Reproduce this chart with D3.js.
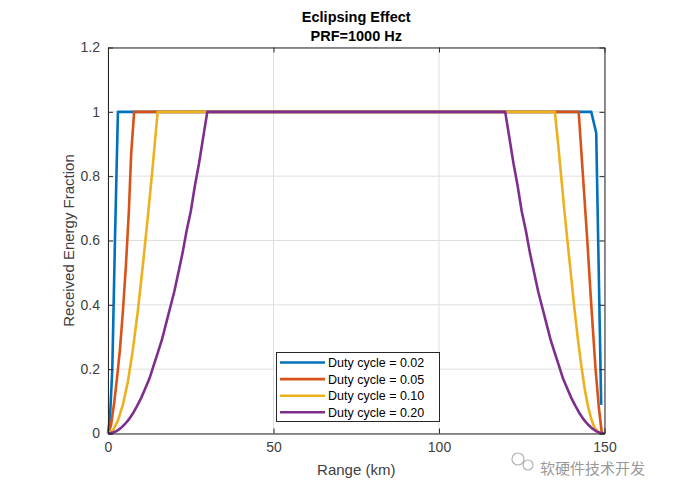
<!DOCTYPE html>
<html>
<head>
<meta charset="utf-8">
<script src="https://cdn.jsdelivr.net/npm/d3@7"></script>
<style>
  html, body { margin: 0; padding: 0; background: #ffffff; }
  svg { display: block; }
  text { font-family: "Liberation Sans", Arial, Helvetica, sans-serif; }
</style>
</head>
<body>
<svg id="chart" width="680" height="487"></svg>
<script>
// ---- data ----
const titleLines = ["Eclipsing Effect", "PRF=1000 Hz"];
const xLabel = "Range (km)";
const yLabel = "Received Energy Fraction";
const xTicks = [0, 50, 100, 150];
const yTicks = [0, 0.2, 0.4, 0.6, 0.8, 1, 1.2];
const yTickLabels = ["0", "0.2", "0.4", "0.6", "0.8", "1", "1.2"];
const seriesNames = ["Duty cycle = 0.02", "Duty cycle = 0.05", "Duty cycle = 0.10", "Duty cycle = 0.20"];

const rangeD02 = [0, 0.6, 1.3, 2.1, 3.0, 146.0, 147.5, 149.0];
const energyD02 = [0, 0.05, 0.2, 0.6, 1, 1, 0.934, 0.089];

const rangeD05 = [0, 0.9, 1.8, 2.7, 3.6, 4.5, 5.4, 6.3, 7.0, 7.9, 142.2, 143.5, 144.8, 146.0, 147.3, 148.3, 149.2];
const energyD05 = [0, 0.025, 0.09, 0.17, 0.26, 0.38, 0.52, 0.69, 0.87, 1, 1, 0.8, 0.6, 0.4, 0.2, 0.08, 0];

const rangeD10 = [0, 1.5, 3, 4.5, 6, 7.5, 9, 10.5, 12, 13.5, 15,
                  135, 136, 137, 138, 139, 140, 141, 142, 143, 144, 145, 146, 147, 148, 149];
const energyD10 = [0, 0.01, 0.04, 0.09, 0.16, 0.26, 0.38, 0.52, 0.67, 0.83, 1,
                   1, 0.9, 0.79, 0.68, 0.58, 0.48, 0.38, 0.29, 0.21, 0.14, 0.085, 0.045, 0.018, 0.005, 0];

const rangeD20 = [0, 1.25, 2.5, 3.75, 5, 6.25, 7.5, 8.75, 10, 11.25, 12.5, 13.75, 15, 16.25, 17.5, 18.75,
                  20, 21.25, 22.5, 23.75, 25, 26.25, 27.5, 28.75, 30,
                  120, 121.25, 122.5, 123.75, 125, 126.25, 127.5, 128.75, 130, 131.25, 132.5, 133.75,
                  135, 136.25, 137.5, 138.75, 140, 141.25, 142.5, 143.75, 145, 146.25, 147.5, 148.75, 150];
const energyD20 = [0, 0.002, 0.007, 0.016, 0.028, 0.043, 0.062, 0.085, 0.11, 0.14, 0.17, 0.21, 0.25, 0.29,
                   0.34, 0.39, 0.44, 0.50, 0.56, 0.63, 0.69, 0.77, 0.84, 0.92, 1,
                   1, 0.92, 0.84, 0.77, 0.69, 0.63, 0.56, 0.50, 0.44, 0.39, 0.34, 0.29,
                   0.25, 0.21, 0.17, 0.14, 0.11, 0.085, 0.062, 0.043, 0.028, 0.016, 0.007, 0.002, 0];

const colors = ["#0072BD", "#D95319", "#EDB120", "#7E2F8E"];
const watermark = "软硬件技术开发";

// ---- layout ----
const svg = d3.select("#chart");
const L = 108, R = 604.5, T = 47.5, B = 433.5;

const x = d3.scaleLinear().domain([0, 150]).range([L, R]);
const y = d3.scaleLinear().domain([0, 1.2]).range([B, T]);

const axisColor = "#262626";
const labelColor = "#404040";

// grid
const g = svg.append("g");
g.selectAll("line.gx").data(xTicks).enter().append("line")
  .attr("x1", d => x(d)).attr("x2", d => x(d)).attr("y1", T).attr("y2", B)
  .attr("stroke", "#dfdfdf").attr("stroke-width", 1);
g.selectAll("line.gy").data(yTicks).enter().append("line")
  .attr("x1", L).attr("x2", R).attr("y1", d => y(d)).attr("y2", d => y(d))
  .attr("stroke", "#dfdfdf").attr("stroke-width", 1);

// data lines
const series = [
  {name: seriesNames[0], xs: rangeD02, ys: energyD02},
  {name: seriesNames[1], xs: rangeD05, ys: energyD05},
  {name: seriesNames[2], xs: rangeD10, ys: energyD10},
  {name: seriesNames[3], xs: rangeD20, ys: energyD20}
];
const line = d3.line().x(d => x(d[0])).y(d => y(d[1])).curve(d3.curveLinear);
series.forEach((s, i) => {
  const pts = s.xs.map((v, k) => [v, s.ys[k]]);
  svg.append("path").datum(pts)
    .attr("d", line)
    .attr("fill", "none")
    .attr("stroke", colors[i])
    .attr("stroke-width", 2.6)
    .attr("stroke-linejoin", "round")
    .attr("stroke-linecap", "butt");
});

// axes (box with inward ticks on all sides)
const axB = d3.axisBottom(x).tickValues(xTicks).tickSizeInner(-5).tickSizeOuter(0).tickPadding(9).tickFormat(d3.format("d"));
const axT = d3.axisTop(x).tickValues(xTicks).tickSizeInner(-5).tickSizeOuter(0).tickFormat("");
const axLf = d3.axisLeft(y).tickValues(yTicks).tickSizeInner(-5).tickSizeOuter(0).tickPadding(8)
  .tickFormat((d, i) => yTickLabels[i]);
const axRt = d3.axisRight(y).tickValues(yTicks).tickSizeInner(-5).tickSizeOuter(0).tickFormat("");

function styleAxis(sel) {
  sel.select(".domain").attr("stroke", axisColor).attr("stroke-width", 1);
  sel.selectAll(".tick line").attr("stroke", axisColor);
  sel.selectAll(".tick text").attr("fill", labelColor).style("font-size", "14px")
    .style("font-family", "'Liberation Sans', Arial, sans-serif");
}
svg.append("g").attr("transform", `translate(0,${B})`).call(axB).call(styleAxis);
svg.append("g").attr("transform", `translate(0,${T})`).call(axT).call(styleAxis);
svg.append("g").attr("transform", `translate(${L},0)`).call(axLf).call(styleAxis);
svg.append("g").attr("transform", `translate(${R},0)`).call(axRt).call(styleAxis);

// title
svg.append("text").attr("x", (L + R) / 2).attr("y", 22).attr("text-anchor", "middle")
  .attr("fill", "#000").style("font-size", "14.5px").style("font-weight", "bold").text(titleLines[0]);
svg.append("text").attr("x", (L + R) / 2).attr("y", 41).attr("text-anchor", "middle")
  .attr("fill", "#000").style("font-size", "14.5px").style("font-weight", "bold").text(titleLines[1]);

// axis labels
svg.append("text").attr("x", (L + R) / 2).attr("y", 475).attr("text-anchor", "middle")
  .attr("fill", labelColor).style("font-size", "15px").text(xLabel);
svg.append("text").attr("transform", `translate(74,${(T + B) / 2}) rotate(-90)`)
  .attr("text-anchor", "middle").attr("fill", labelColor).style("font-size", "15px").text(yLabel);

// legend
const lgX = 276, lgY = 352, lgW = 163, lgH = 69;
const lg = svg.append("g");
lg.append("rect").attr("x", lgX + 0.5).attr("y", lgY + 0.5).attr("width", lgW).attr("height", lgH)
  .attr("fill", "#fff").attr("stroke", axisColor).attr("stroke-width", 1);
seriesNames.forEach((n, i) => {
  const yy = lgY + 10.5 + i * 16.6;
  lg.append("line").attr("x1", lgX + 4).attr("x2", lgX + 49).attr("y1", yy).attr("y2", yy)
    .attr("stroke", colors[i]).attr("stroke-width", 2.6);
  lg.append("text").attr("x", lgX + 52).attr("y", yy + 4.5).attr("fill", "#000")
    .style("font-size", "12.5px").text(n);
});

// watermark
const wm = svg.append("g").attr("opacity", 0.75);
wm.append("circle").attr("cx", 518).attr("cy", 459).attr("r", 6).attr("fill", "none").attr("stroke", "#999").attr("stroke-width", 1.2);
wm.append("circle").attr("cx", 528).attr("cy", 465).attr("r", 5).attr("fill", "none").attr("stroke", "#999").attr("stroke-width", 1.2);
wm.append("text").attr("x", 540).attr("y", 474).attr("fill", "#777")
  .style("font-family", "'Noto Sans CJK SC', sans-serif").style("font-size", "15px").text(watermark);
</script>
</body>
</html>
